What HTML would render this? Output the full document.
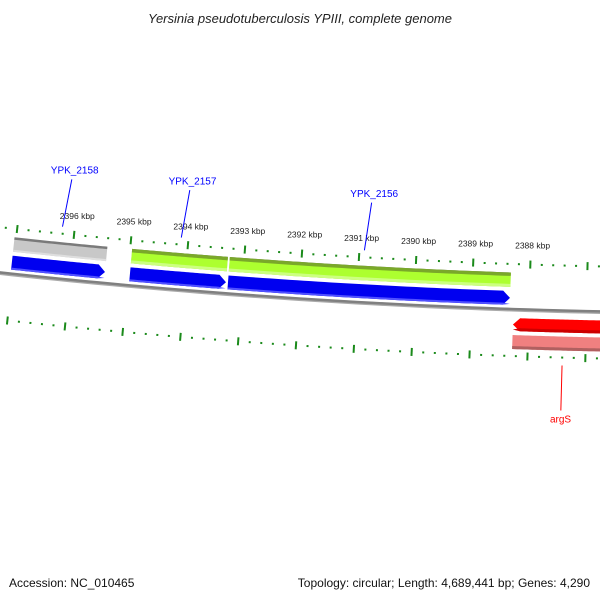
<!DOCTYPE html>
<html><head><meta charset="utf-8"><style>
html,body{margin:0;padding:0;background:#fff;}
svg{display:block;font-family:"Liberation Sans","DejaVu Sans",sans-serif;}
</style></head><body>
<svg id="map" width="600" height="600" viewBox="0 0 600 600">
<text x="300" y="23" text-anchor="middle" font-size="13" font-style="italic" fill="#222">Yersinia pseudotuberculosis YPIII, complete genome</text>
<g id="layer"></g>
<text x="9" y="587" font-size="12" fill="#111">Accession: NC_010465</text>
<text x="590" y="587" text-anchor="end" font-size="12" fill="#111">Topology: circular; Length: 4,689,441 bp; Genes: 4,290</text>
</svg>
<script>
// data
const majorTicksKbp = [2398,2397,2396,2395,2394,2393,2392,2391,2390,2389,2388,2387,2386];
const tickLabelsKbp = [2396,2395,2394,2393,2392,2391,2390,2389,2388];
const geneNames = ["YPK_2158","YPK_2157","YPK_2156","argS"];
const geneStarts = [2397030,2394965,2393252,2388269];
const geneEnds = [2395400,2393287,2388336,2386500];
const geneStrands = [1,1,1,-1];
const labelFrac = [0.5,0.5,0.476,0.5];

const CX=747, CY=-6587, R=6900;
const TH0=-0.09833, K=0.00834; // angle at 2396 kbp, radians per kbp
function th(bp){return TH0+(2396000-bp)/1000*K;}
function pt(bp,off){const r=R+off,t=th(bp);return [CX+r*Math.sin(t),CY+r*Math.cos(t)];}
const NS="http://www.w3.org/2000/svg";
const layer=document.getElementById('layer');
function mk(tag,attrs){const e=document.createElementNS(NS,tag);for(const k in attrs)e.setAttribute(k,attrs[k]);layer.appendChild(e);return e;}
function band(b1,b2,o1,o2,fill,name,arrow){
  const pts=[];const n=40;const mid=(o1+o2)/2;const ah=7/ (R*K/1000);
  let a1=b1,a2=b2;
  if(arrow===1)a2=b2+ah;if(arrow===-1)a1=b1-ah;
  for(let i=0;i<=n;i++){pts.push(pt(a1+(a2-a1)*i/n,o1));}
  if(arrow===1)pts.push(pt(b2,mid));
  for(let i=n;i>=0;i--){pts.push(pt(a1+(a2-a1)*i/n,o2));}
  if(arrow===-1)pts.push(pt(b1,mid));
  const e=mk('polygon',{points:pts.map(p=>p[0].toFixed(2)+','+p[1].toFixed(2)).join(' '),fill:fill});
  
  
  return e;
}
function arcLine(b1,b2,off,stroke,w,name){
  const pts=[];for(let i=0;i<=60;i++)pts.push(pt(b1+(b2-b1)*i/60,off));
  const e=mk('polyline',{points:pts.map(p=>p[0].toFixed(2)+','+p[1].toFixed(2)).join(' '),fill:'none',stroke:stroke,'stroke-width':w});
  
  
}
arcLine(2400000,2385000,0.8,'#aaa',3.5,'backbone-shadow');
arcLine(2400000,2385000,0,'#808080',2.5,'backbone');

const first=majorTicksKbp[0]*1000,last=majorTicksKbp[majorTicksKbp.length-1]*1000;
for(let bp=first;bp>=last;bp-=200){
  const major=(bp%1000===0);
  [[-45,'top'],[47,'bottom']].forEach(([o,side])=>{
    const h=major?4:1;
    const a=pt(bp,o-h),b=pt(bp,o+h);
    const e=mk('line',{x1:a[0],y1:a[1],x2:b[0],y2:b[1],stroke:'#1a8a1a','stroke-width':2});
    
    
  });
}
tickLabelsKbp.forEach(k=>{
  const p=pt(k*1000-30,-61);
  const t=mk('text',{x:p[0].toFixed(1),y:p[1].toFixed(1),'text-anchor':'middle','font-size':'8.5',fill:'#222'});
  t.textContent=k+' kbp';
  
  
});

geneNames.forEach((g,i)=>{
  const s=geneStarts[i],e=geneEnds[i];
  if(geneStrands[i]===1){
    band(s,e,-22,-36,'#c8c8c8','gene-'+g);
    band(s,e,-34,-36.5,'#7a7a7a','gene-edge-'+g);
    band(s,e,-22,-24,'#dedede','gene-light-'+g);
    band(s,e,-4,-18,'#0000f0','cds-'+g,1);
    band(s,e,-4,-6,'#5050ff','cds-light-'+g,1);
  }else{
    band(s,e,9,22,'#ff0000','cds-'+g,-1);
    band(s,e,19,22,'#cc0000','cds-dark-'+g,-1);
    band(s,e,26,40,'#f08080','gene-'+g);
    band(s,e,37,40,'#b06060','gene-edge-'+g);
  }
});
[1,2].forEach(i=>{
  const s=geneStarts[i],e=geneEnds[i];
  band(s,e,-22,-36,'#adff2f','gene-green-'+geneNames[i]);
  band(s,e,-33,-36.5,'#7aa82a','gene-green-edge-'+geneNames[i]);
  band(s,e,-22,-25,'#ccff80','gene-green-light-'+geneNames[i]);
});

geneNames.forEach((g,i)=>{
  if(geneStrands[i]===1){
    const bpPos=geneStarts[i]-(geneStarts[i]-geneEnds[i])*labelFrac[i];
    const a=pt(bpPos,-52),b=pt(bpPos-80,-100);
    const l=mk('line',{x1:a[0],y1:a[1],x2:b[0],y2:b[1],stroke:'#0000ff','stroke-width':1});
    
    
    const c=pt(bpPos-120,-106);
    const t=mk('text',{x:c[0].toFixed(1),y:c[1].toFixed(1),'text-anchor':'middle','font-size':'10',fill:'#0000ff'});
    t.textContent=g;
    
    
  }else{
    const bpPos=geneStarts[i]-870;
    const a=pt(bpPos,55),b=pt(bpPos,100);
    const l=mk('line',{x1:a[0],y1:a[1],x2:b[0],y2:b[1],stroke:'#ff0000','stroke-width':1});
    
    
    const c=pt(bpPos,112);
    const t=mk('text',{x:c[0].toFixed(1),y:c[1].toFixed(1),'text-anchor':'middle','font-size':'10',fill:'#ff0000'});
    t.textContent=g;
    
    
  }
});
</script>
</body></html>
